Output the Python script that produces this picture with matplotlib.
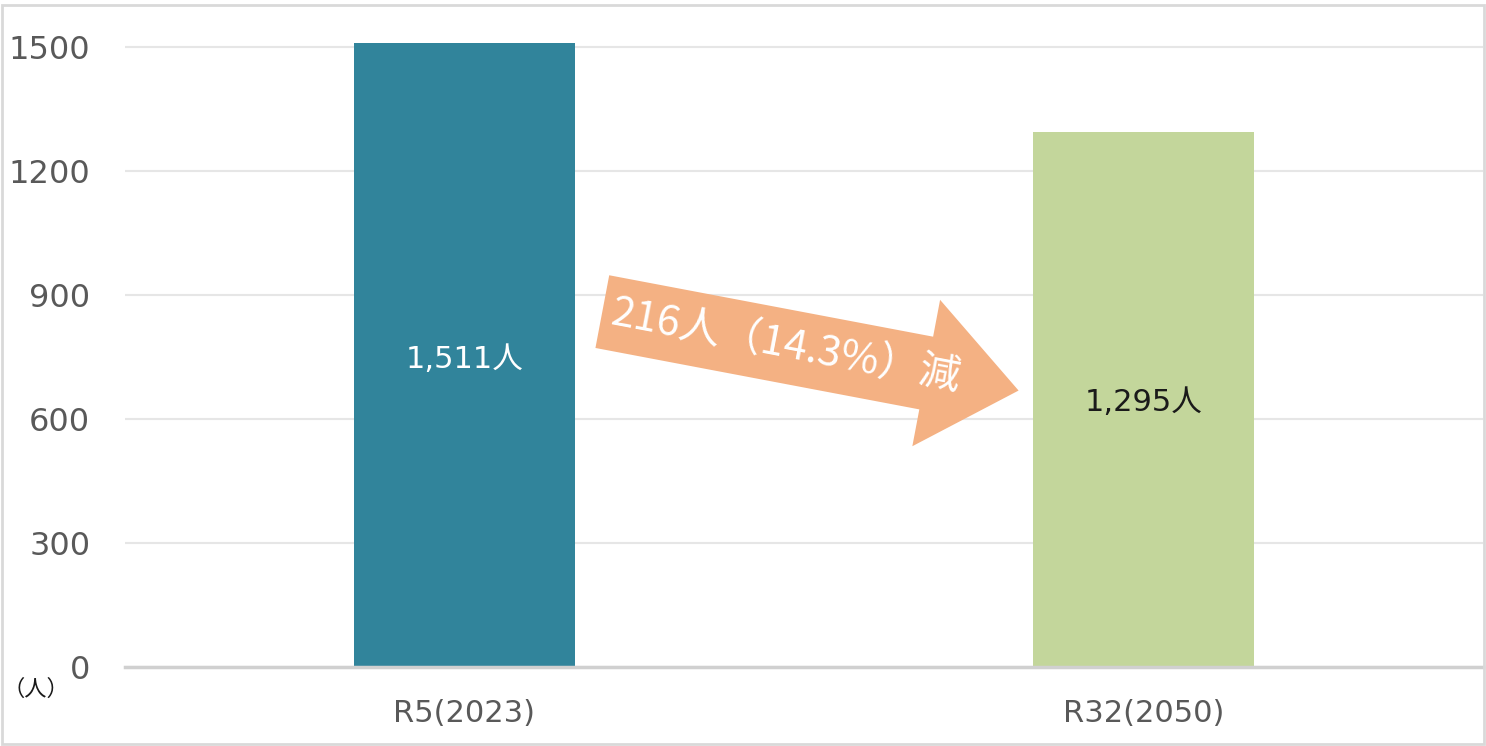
import numpy as np
import matplotlib
matplotlib.use("Agg")
import matplotlib.pyplot as plt
from matplotlib.patches import Polygon, Rectangle

plt.rcParams['font.family'] = ['DejaVu Sans', 'Noto Sans CJK JP']

# data
categories = ['R5(2023)', 'R32(2050)']
values = [1511, 1295]
bar_labels = ['1,511人', '1,295人']
bar_colors = ['#31849B', '#C3D69B']
label_colors = ['white', '#1a1a1a']
yticks = [0, 300, 600, 900, 1200, 1500]
arrow_text = '216人（14.3%）減'

fig = plt.figure(figsize=(14.86, 7.46), dpi=100)
ax = fig.add_axes([0.0841, 0.1059, 0.9139, 0.8863])

x = np.arange(len(categories))
ax.bar(x, values, width=0.326, color=bar_colors, zorder=2)
ax.set_xlim(-0.5, 1.5)
ax.set_ylim(0, 1600)
ax.set_yticks(yticks)
ax.set_xticks(x)
ax.set_xticklabels(categories, fontsize=22, color='#595959')
ax.set_yticklabels([str(v) for v in yticks], fontsize=23, color='#595959')
ax.tick_params(axis='both', length=0)
ax.tick_params(axis='x', pad=23)
ax.tick_params(axis='y', pad=25)
ax.grid(axis='y', color='#E6E6E6', linewidth=1.5, zorder=0)
for s in ['top', 'right', 'left']:
    ax.spines[s].set_visible(False)
ax.spines['bottom'].set_color('#D0D0D0')
ax.spines['bottom'].set_linewidth(2.5)
ax.set_axisbelow(True)

# value labels inside the bars
label_pos = [745, 640]
for xi, lbl, c, ly in zip(x, bar_labels, label_colors, label_pos):
    ax.text(xi, ly, lbl, ha='center', va='center', fontsize=22, color=c, zorder=3)

# unit label
fig.text(0.002, 0.076, '（人）', fontsize=16, color='#1a1a1a', ha='left', va='center',
         family=['Noto Sans CJK JP', 'DejaVu Sans'])

# arrow from first to second bar (built in display pixels)
tail = ax.transData.transform((0.203, 860))
tip = ax.transData.transform((0.816, 669))
d = tip - tail
L = np.hypot(*d)
u = d / L
n = np.array([-u[1], u[0]])
shaft_w, head_w, head_l = 74, 149, 94
base = tip - u * head_l
pts = [tail + n * shaft_w / 2, base + n * shaft_w / 2, base + n * head_w / 2, tip,
       base - n * head_w / 2, base - n * shaft_w / 2, tail - n * shaft_w / 2]
arrow = Polygon(pts, closed=True, transform=None, facecolor='#F4B183',
                edgecolor='none', zorder=4)
fig.patches.append(arrow)
ang = np.degrees(np.arctan2(d[1], d[0]))
mid = tail + u * (L * 0.44)
fig.text(mid[0] / fig.bbox.width, mid[1] / fig.bbox.height, arrow_text,
         rotation=ang, rotation_mode='anchor', ha='center', va='center',
         fontsize=30, color='white', zorder=5,
         family=['Noto Sans CJK JP', 'DejaVu Sans'])

# outer frame
fig.patches.append(Rectangle((0.0015, 0.003), 0.997, 0.99, transform=fig.transFigure,
                             fill=False, edgecolor='#D9D9D9', linewidth=2))

fig.savefig('out.png', dpi=100, facecolor='white')
